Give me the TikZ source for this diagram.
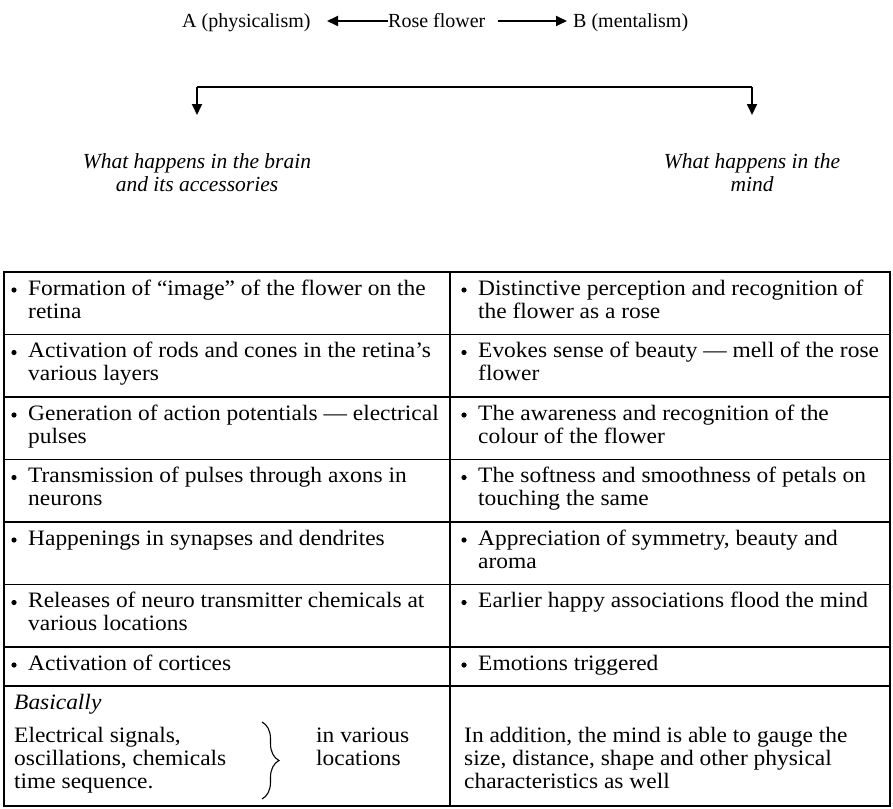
\documentclass[tikz,border=0pt]{standalone}
\usepackage{fontspec}
\setmainfont{Liberation Serif}
\newfontfamily\tblfont[FakeStretch=1.065]{Liberation Serif}
\usetikzlibrary{arrows.meta,decorations.pathreplacing}
\newcommand\tbl{\tblfont\fontsize{22}{23}\selectfont}
\newcommand\ttl{\fontsize{20}{23}\selectfont}
\newcommand\hdrf{\fontsize{21.5}{23}\selectfont\itshape}
\tikzset{
  cell/.style={anchor=north west, inner sep=0pt, align=left, font=\tbl},
  bul/.style={circle, fill=black, inner sep=0pt, minimum size=5.2pt},
  grid/.style={line width=1.2pt},
  arr/.style={line width=1.8pt, -{Triangle[length=11pt,width=10pt]}},
  ttltext/.style={anchor=base west, inner sep=0pt, font=\ttl},
  hdr/.style={anchor=north, inner sep=0pt, align=center, font=\hdrf}
}
\newcommand\bcell[5]{%
  \node[bul] (#1b) at (#2, #4+18) {};
  \node[cell] (#1) at (#3, #4+6.9) {\strut #5};
}
\begin{document}
\begin{tikzpicture}[x=1pt,y=-1pt]
\useasboundingbox (0,0) rectangle (893,808);
% title
\node[ttltext] (A) at (182,28) {A (physicalism)};
\node[ttltext] (R) at (388,28) {Rose flower};
\node[ttltext] (B) at (573,28) {B (mentalism)};
\coordinate (la) at (327,21);
\coordinate (ra) at (567,21);
\draw[arr] (R.west |- la) -- (la);
\draw[arr] ([xshift=12pt]R.east |- ra) -- (ra);
% split arrow
\coordinate (sl) at (197,87);
\coordinate (sr) at (752,87);
\coordinate (tl) at (197,115);
\coordinate (tr) at (752,115);
\draw[line width=1.8pt] (sl) -- (sr);
\draw[arr] (sl) -- (tl);
\draw[arr] (sr) -- (tr);
% headers
\node[hdr] (hl) at (197,153) {What happens in the brain\\and its accessories};
\node[hdr] (hr) at (752,153) {What happens in the\\mind};
% table grid
\draw[grid] (4,272) rectangle (890,806);
\draw[grid] (450,272) -- (450,806);
\foreach \yy in {334.5,397,459.5,522,584.5,647,686}{
  \draw[grid] (4,\yy) -- (890,\yy);
}
% rows
\bcell{l1}{14}{28}{272}{Formation of “image” of the flower on the\\retina}
\bcell{r1}{464}{478}{272}{Distinctive perception and recognition of\\the flower as a rose}
\bcell{l2}{14}{28}{334.5}{Activation of rods and cones in the retina’s\\various layers}
\bcell{r2}{464}{478}{334.5}{Evokes sense of beauty — mell of the rose\\flower}
\bcell{l3}{14}{28}{397}{Generation of action potentials — electrical\\pulses}
\bcell{r3}{464}{478}{397}{The awareness and recognition of the\\colour of the flower}
\bcell{l4}{14}{28}{459.5}{Transmission of pulses through axons in\\neurons}
\bcell{r4}{464}{478}{459.5}{The softness and smoothness of petals on\\touching the same}
\bcell{l5}{14}{28}{522}{Happenings in synapses and dendrites}
\bcell{r5}{464}{478}{522}{Appreciation of symmetry, beauty and\\aroma}
\bcell{l6}{14}{28}{584.5}{Releases of neuro transmitter chemicals at\\various locations}
\bcell{r6}{464}{478}{584.5}{Earlier happy associations flood the mind}
\bcell{l7}{14}{28}{647}{Activation of cortices}
\bcell{r7}{464}{478}{647}{Emotions triggered}
% last row
\node[cell] (bas) at (14,686+6.9) {\strut\itshape Basically};
\node[cell] (sig) at (14,726) {\strut Electrical signals,\\oscillations, chemicals\\time sequence.};
\node[cell] (loc) at (316,726) {\strut in various\\locations};
\node[cell] (add) at (464,726) {\strut In addition, the mind is able to gauge the\\size, distance, shape and other physical\\characteristics as well};
\coordinate (bt) at (262,722);
\coordinate (bb) at (262,799);
\draw[line width=1.1pt, decorate, decoration={brace, amplitude=17pt}] (bt) -- (bb);
\end{tikzpicture}
\end{document}
